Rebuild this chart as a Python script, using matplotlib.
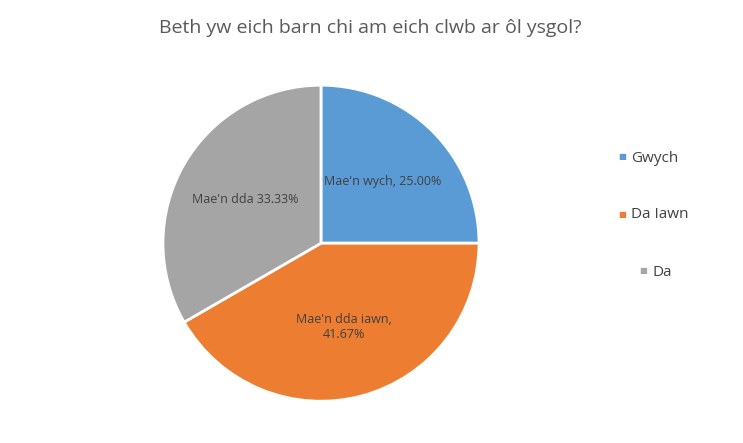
import matplotlib
matplotlib.use("Agg")
import matplotlib.pyplot as plt

categories = ["Gwych", "Da Iawn", "Da"]
values = [25.00, 41.67, 33.33]
labels = ["Mae'n wych, 25.00%", "Mae'n dda iawn,\n41.67%", "Mae'n dda 33.33%"]
colors = ["#5b9bd5", "#ed7d31", "#a5a5a5"]

plt.rcParams["font.family"] = ["Open Sans", "DejaVu Sans"]

fig = plt.figure(figsize=(7.43, 4.43), dpi=100)
ax = fig.add_axes([0.432 - 0.2127, 0.451 - 0.3567, 0.4254, 0.7134])
wedges, texts = ax.pie(values, colors=colors, startangle=90, counterclock=False,
                       labels=labels, labeldistance=0.55,
                       wedgeprops=dict(edgecolor="white", linewidth=2),
                       textprops=dict(fontsize=9, color="#404040", ha="center", va="center"))
ax.set_aspect("equal")
ax.set_xlim(-1.0, 1.0); ax.set_ylim(-1.0, 1.0)

fig.text(0.498, 0.937, "Beth yw eich barn chi am eich clwb ar ôl ysgol?",
         ha="center", va="center", fontsize=14, color="#595959")

ys = [158, 215, 272]
xs = [622, 622, 643]
for cat, col, y, x in zip(categories, colors, ys, xs):
    fig.text(x / 743, 1 - y / 443, "\u25a0", color=col, fontsize=6, ha="center", va="center")
    fig.text((x + 9) / 743, 1 - y / 443, cat, color="#404040", fontsize=11, ha="left", va="center")

fig.savefig("out.png", dpi=100)
